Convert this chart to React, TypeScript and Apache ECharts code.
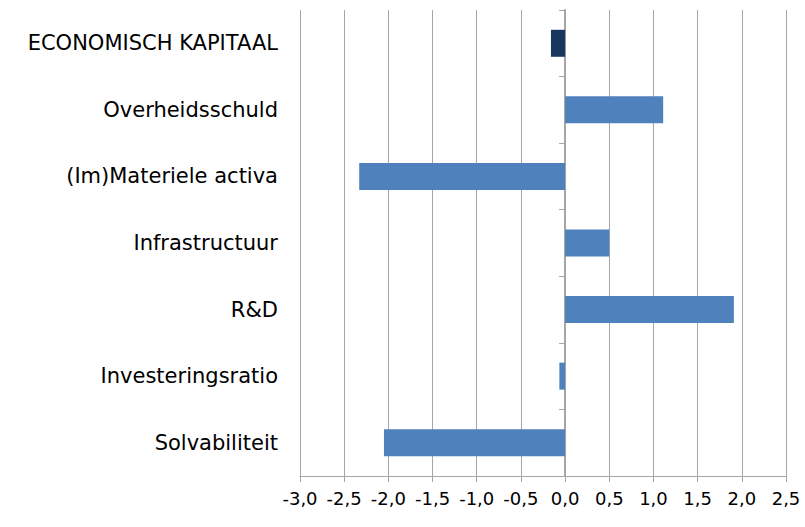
import React, { useEffect, useRef } from "react";
import * as echarts from "echarts";

const categories = [
  "ECONOMISCH KAPITAAL",
  "Overheidsschuld",
  "(Im)Materiele activa",
  "Infrastructuur",
  "R&D",
  "Investeringsratio",
  "Solvabiliteit",
];
const values = [-0.16, 1.11, -2.33, 0.5, 1.91, -0.065, -2.05];
const highlightIndex = 0;
const xMin = -3.0;
const xMax = 2.5;
const xInterval = 0.5;

export default function App() {
  const ref = useRef<HTMLDivElement>(null);
  useEffect(() => {
    if (!ref.current) return;
    const chart = echarts.init(ref.current, undefined, { renderer: "svg" });
    const font = "'DejaVu Sans', sans-serif";
    chart.setOption({
      animation: false,
      grid: { left: 300, right: 19, top: 10, bottom: 51, containLabel: false, outerBoundsMode: "none" },
      xAxis: {
        type: "value",
        min: xMin,
        max: xMax,
        interval: xInterval,
        axisLine: { show: true, onZero: false, lineStyle: { color: "#a6a6a6", width: 1 } },
        axisTick: { show: true, length: 6, lineStyle: { color: "#a6a6a6" } },
        splitLine: { show: true, lineStyle: { color: "#a6a6a6", width: 1 } },
        axisLabel: {
          color: "#000",
          fontSize: 18,
          fontFamily: font,
          margin: 13,
          hideOverlap: false,
          formatter: (v: number) => v.toFixed(1).replace(".", ","),
        },
      },
      yAxis: {
        type: "category",
        data: categories,
        inverse: true,
        axisLine: { show: true, onZero: true, lineStyle: { color: "#a6a6a6", width: 2 } },
        axisTick: { show: true, length: 6, lineStyle: { color: "#a6a6a6" } },
        splitLine: { show: false },
        axisLabel: { color: "#000", fontSize: 21, fontFamily: font, margin: 22 },
      },
      series: [
        {
          type: "bar",
          data: values.map((v, i) => ({
            value: v,
            itemStyle: { color: i === highlightIndex ? "#17375e" : "#4f81bd" },
          })),
          barWidth: 27,
        },
      ],
    });
    return () => chart.dispose();
  }, []);
  return <div ref={ref} style={{ width: 805, height: 527, position: "absolute", left: 0, top: 0 }} />;
}
